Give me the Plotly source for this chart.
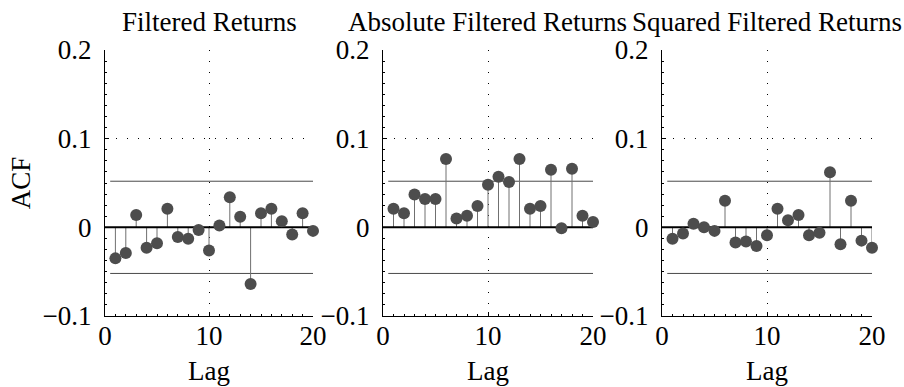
import plotly.graph_objects as go

# Sample autocorrelations of the filtered return series, lags 1..20
lags = list(range(1, 21))
acf_returns = [-0.035, -0.029, 0.014, -0.023, -0.018, 0.021, -0.011, -0.013, -0.003, -0.026,
               0.002, 0.034, 0.012, -0.064, 0.016, 0.021, 0.007, -0.008, 0.016, -0.004]
acf_abs = [0.021, 0.016, 0.037, 0.032, 0.032, 0.077, 0.010, 0.013, 0.024, 0.048,
           0.057, 0.051, 0.077, 0.021, 0.024, 0.065, -0.001, 0.066, 0.013, 0.006]
acf_sq = [-0.013, -0.007, 0.004, 0.000, -0.004, 0.030, -0.017, -0.016, -0.021, -0.009,
          0.021, 0.008, 0.014, -0.009, -0.006, 0.062, -0.019, 0.030, -0.015, -0.023]
titles = ["Filtered Returns", "Absolute Filtered Returns", "Squared Filtered Returns"]
conf_bound = 0.052  # approximate 95% bound for the ACF
y_ticks = [-0.1, 0, 0.1, 0.2]
x_ticks = [0, 10, 20]

W, H = 904, 387
x_domains = [(105, 313), (383, 593), (662, 872)]
y_top, y_bot = 50, 316
FONT = "Liberation Serif, Times New Roman, serif"
FS = 27

fig = go.Figure()
series = [acf_returns, acf_abs, acf_sq]
for i, (vals, title) in enumerate(zip(series, titles)):
    ax = "" if i == 0 else str(i + 1)
    xa, ya = "x" + ax, "y" + ax
    # confidence bounds
    for b in (conf_bound, -conf_bound):
        fig.add_trace(go.Scatter(x=[0.5, 20], y=[b, b], mode="lines",
                                 line=dict(color="#4a4a4a", width=1),
                                 xaxis=xa, yaxis=ya, showlegend=False, hoverinfo="skip"))
    # stems
    sx, sy = [], []
    for k, v in zip(lags, vals):
        sx += [k, k, None]
        sy += [0, v, None]
    fig.add_trace(go.Scatter(x=sx, y=sy, mode="lines",
                             line=dict(color="#707070", width=1),
                             xaxis=xa, yaxis=ya, showlegend=False, hoverinfo="skip"))
    # zero line
    fig.add_trace(go.Scatter(x=[0, 20], y=[0, 0], mode="lines",
                             line=dict(color="black", width=2),
                             xaxis=xa, yaxis=ya, showlegend=False, hoverinfo="skip"))
    # stem heads
    fig.add_trace(go.Scatter(x=lags, y=vals, mode="markers", cliponaxis=False,
                             marker=dict(color="#4d4d4d", size=12, line=dict(width=0)),
                             xaxis=xa, yaxis=ya, showlegend=False))

    x0, x1 = x_domains[i]
    common = dict(showline=True, linecolor="black", linewidth=1, automargin=False,
                  ticks="inside", ticklen=4, tickcolor="black",
                  showgrid=True, gridcolor="black", gridwidth=1, griddash="1px,10px",
                  zeroline=False, tickfont=dict(family=FONT, size=FS, color="black"))
    fig.layout["xaxis" + ax] = dict(
        domain=[x0 / W, x1 / W], anchor=ya, range=[0, 20],
        tickmode="array", tickvals=x_ticks, ticktext=[str(t) for t in x_ticks],
        ticklabelstandoff=-4,
        minor=dict(tickmode="linear", tick0=0, dtick=1, ticks="inside", ticklen=2,
                   tickcolor="black", showgrid=False),
        title=dict(text="Lag", font=dict(family=FONT, size=FS, color="black"), standoff=10),
        **common)
    fig.layout["yaxis" + ax] = dict(
        domain=[1 - y_bot / H, 1 - y_top / H], anchor=xa, range=[-0.1, 0.2],
        tickmode="array", tickvals=y_ticks,
        ticktext=["\u22120.1", "0", "0.1", "0.2"],
        ticklabelstandoff=7,
        minor=dict(tickmode="linear", tick0=-0.1, dtick=0.0125, ticks="inside", ticklen=2,
                   tickcolor="black", showgrid=False),
        title=dict(text="ACF" if i == 0 else "", font=dict(family=FONT, size=FS, color="black"),
                   standoff=4),
        **common)
    fig.add_annotation(text=title, xref="paper", yref="paper",
                       x=(x0 + x1) / 2 / W, y=1 - 22 / H, xanchor="center", yanchor="middle",
                       showarrow=False, font=dict(family=FONT, size=FS, color="black"))

fig.update_layout(width=W, height=H, margin=dict(l=0, r=0, t=0, b=0),
                  paper_bgcolor="white", plot_bgcolor="white")
fig.write_html("out.html")
